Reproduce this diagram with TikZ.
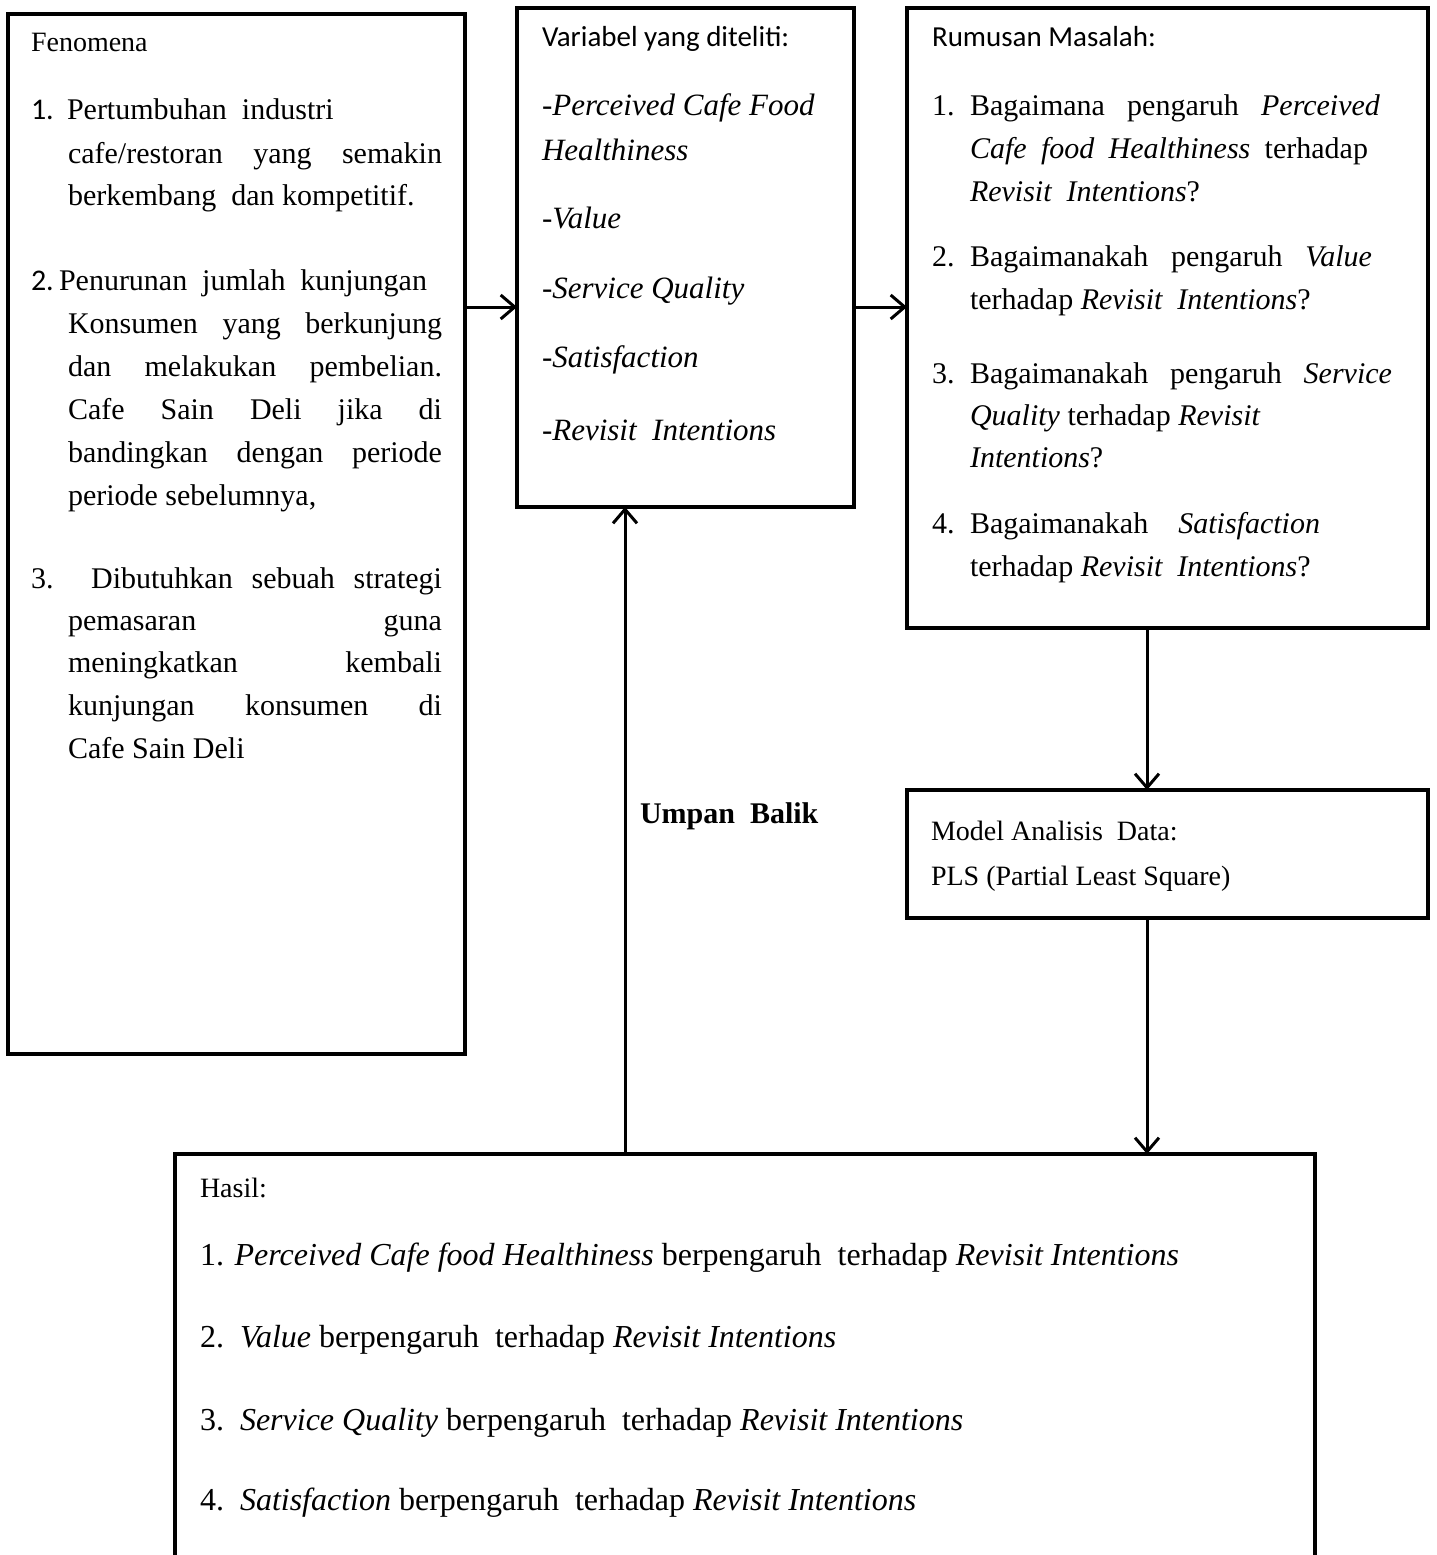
\documentclass[tikz,border=0pt]{standalone}
\usepackage{fontspec}
\setmainfont{Liberation Serif}
\newfontfamily\calib{Carlito}
\usetikzlibrary{arrows.meta}
\tikzset{
  box/.style={draw, line width=4pt, rectangle, outer sep=0pt, inner sep=0pt, anchor=north west},
  txt/.style={inner sep=0pt, outer sep=0pt, anchor=base west, font=\fontsize{30}{36}\selectfont},
  sml/.style={txt, font=\fontsize{28}{34}\selectfont},
  big/.style={txt, font=\fontsize{32}{38}\selectfont},
  lbl/.style={txt, font=\calib\fontsize{29}{34}\selectfont},
  itx/.style={txt, font=\fontsize{31}{36}\selectfont\itshape},
  arr/.style={line width=3pt, -{Straight Barb[length=14pt,width=24pt]}}
}
\newcommand{\jl}[2]{\makebox[#1pt][s]{#2}}
\begin{document}
\begin{tikzpicture}[x=1pt,y=-1pt]
\useasboundingbox (0,0) rectangle (1436,1555);
\clip (0,0) rectangle (1436,1555);
\fill[white] (0,0) rectangle (1436,1555);

% boxes
\node[box, minimum width=457pt, minimum height=1040pt] (fen) at (8,14) {};
\node[box, minimum width=337pt, minimum height=499pt] (var) at (517,8) {};
\node[box, minimum width=521pt, minimum height=620pt] (rum) at (907,8) {};
\node[box, minimum width=521pt, minimum height=128pt] (mod) at (907,790) {};
\node[box, minimum width=1140pt, minimum height=446pt] (has) at (175,1154) {};

% Fenomena text
\node[sml] (f0) at (31,52) {Fenomena};
\node[txt, font=\calib\fontsize{30}{36}\selectfont] (f1n) at (31,119) {1.};
\node[txt] (f1) at (67,119) {Pertumbuhan\ \ industri};
\node[txt] (f2) at (68,163) {\jl{374}{cafe/restoran yang semakin}};
\node[txt] (f3) at (68,205) {berkembang\ \ dan kompetitif.};
\node[txt, font=\calib\fontsize{30}{36}\selectfont] (f4n) at (31,290) {2.};
\node[txt] (f4) at (59,290) {\jl{368}{Penurunan jumlah kunjungan}};
\node[txt] (f5) at (68,333) {\jl{374}{Konsumen yang berkunjung}};
\node[txt] (f6) at (68,376) {\jl{374}{dan melakukan pembelian.}};
\node[txt] (f7) at (68,419) {\jl{374}{Cafe Sain Deli jika di}};
\node[txt] (f8) at (68,462) {\jl{374}{bandingkan dengan periode}};
\node[txt] (f9) at (68,505) {periode sebelumnya,};
\node[txt] (f10) at (31,588) {\jl{411}{3.\ \ Dibutuhkan sebuah strategi}};
\node[txt] (f11) at (68,630) {\jl{374}{pemasaran guna}};
\node[txt] (f12) at (68,672) {\jl{374}{meningkatkan kembali}};
\node[txt] (f13) at (68,715) {\jl{374}{kunjungan konsumen di}};
\node[txt] (f14) at (68,758) {Cafe Sain Deli};

% Variabel text
\node[lbl] (v0) at (542,47) {Variabel yang diteliti:};
\node[itx] (v1) at (542,115) {-Perceived Cafe Food};
\node[itx] (v2) at (542,160) {Healthiness};
\node[itx] (v3) at (542,228) {-Value};
\node[itx] (v4) at (542,298) {-Service Quality};
\node[itx] (v5) at (542,367) {-Satisfaction};
\node[itx] (v6) at (542,440) {-Revisit\ \ Intentions};

% Rumusan text
\node[lbl] (r0) at (932,47) {Rumusan Masalah:};
\node[txt] (r1n) at (932,115) {1.};
\node[txt] (r1) at (970,115) {\jl{410}{Bagaimana pengaruh \textit{Perceived}}};
\node[txt] (r2) at (970,158) {\jl{398}{\textit{Cafe food Healthiness} terhadap}};
\node[txt] (r3) at (970,201) {\textit{Revisit\ \ Intentions}?};
\node[txt] (r4n) at (932,266) {2.};
\node[txt] (r4) at (970,266) {\jl{402}{Bagaimanakah pengaruh \textit{Value}}};
\node[txt] (r5) at (970,309) {terhadap \textit{Revisit\ \ Intentions}?};
\node[txt] (r6n) at (932,383) {3.};
\node[txt] (r6) at (970,383) {\jl{422}{Bagaimanakah pengaruh \textit{Service}}};
\node[txt] (r7) at (970,425) {\textit{Quality} terhadap \textit{Revisit}};
\node[txt] (r8) at (970,467) {\textit{Intentions}?};
\node[txt] (r9n) at (932,533) {4.};
\node[txt] (r9) at (970,533) {\jl{350}{Bagaimanakah \textit{Satisfaction}}};
\node[txt] (r10) at (970,576) {terhadap \textit{Revisit\ \ Intentions}?};

% Model text
\node[sml] (m1) at (931,840) {Model Analisis\ \ Data:};
\node[sml] (m2) at (931,885) {PLS (Partial Least Square)};

% Umpan Balik
\node[txt, font=\fontsize{30}{36}\selectfont\bfseries] (ub) at (640,823) {Umpan\ \ Balik};

% Hasil text
\node[sml] (h0) at (200,1197) {Hasil:};
\node[big] (h1) at (200,1265) {1. \textit{Perceived Cafe food Healthiness} berpengaruh\ \ terhadap \textit{Revisit Intentions}};
\node[big] (h2) at (200,1347) {2.\ \ \textit{Value} berpengaruh\ \ terhadap \textit{Revisit Intentions}};
\node[big] (h3) at (200,1430) {3.\ \ \textit{Service Quality} berpengaruh\ \ terhadap \textit{Revisit Intentions}};
\node[big] (h4) at (200,1510) {4.\ \ \textit{Satisfaction} berpengaruh\ \ terhadap \textit{Revisit Intentions}};

% connectors
\coordinate (ya) at (0,307);
\coordinate (xa) at (1147,0);
\coordinate (xb) at (625,0);
\draw[arr] (fen.east |- ya) -- (var.west |- ya);
\draw[arr] (var.east |- ya) -- (rum.west |- ya);
\draw[arr] (rum.south -| xa) -- (mod.north -| xa);
\draw[arr] (mod.south -| xa) -- (has.north -| xa);
\draw[arr] (has.north -| xb) -- (var.south -| xb);
\end{tikzpicture}
\end{document}
